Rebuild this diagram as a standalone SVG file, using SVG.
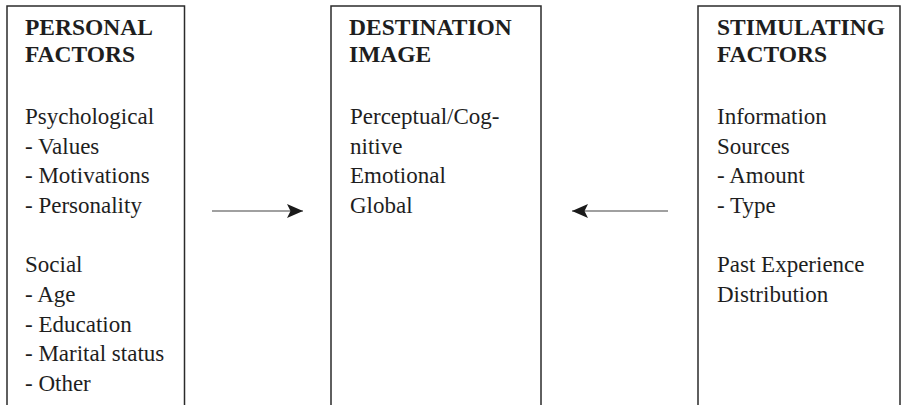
<svg xmlns="http://www.w3.org/2000/svg" width="902" height="405" viewBox="0 0 902 405">
<style>
.box{fill:none;stroke:#2b2b2b;stroke-width:1.5}
.h{font-family:"Liberation Serif","Times New Roman",serif;font-weight:bold;font-size:23.5px;fill:#1e1e1e}
.t{font-family:"Liberation Serif","Times New Roman",serif;font-size:23px;fill:#1e1e1e}
.conn{stroke:#808080;stroke-width:1.6;fill:none}
</style>
<defs>
<marker id="ah" markerUnits="userSpaceOnUse" markerWidth="18" markerHeight="16" refX="16" refY="7" orient="auto" overflow="visible">
<path d="M0,0 L16,7 L0,14 L3.5,7 Z" fill="#1a1a1a"/>
</marker>
</defs>
<rect width="902" height="405" fill="#fff"/>
<g id="personal">
<rect class="box" x="7" y="6" width="177.5" height="420"/>
<text class="h" x="25" y="35">PERSONAL</text>
<text class="h" x="25" y="62">FACTORS</text>
<text class="t" x="25" y="124">Psychological</text>
<text class="t" x="25" y="153.6">- Values</text>
<text class="t" x="25" y="183.2">- Motivations</text>
<text class="t" x="25" y="212.8">- Personality</text>
<text class="t" x="25" y="272">Social</text>
<text class="t" x="25" y="302">- Age</text>
<text class="t" x="25" y="331.5">- Education</text>
<text class="t" x="25" y="361">- Marital status</text>
<text class="t" x="25" y="390.5">- Other</text>
</g>
<g id="destination">
<rect class="box" x="331" y="6" width="210" height="420"/>
<text class="h" x="349" y="35">DESTINATION</text>
<text class="h" x="349" y="62">IMAGE</text>
<text class="t" x="350" y="124">Perceptual/Cog-</text>
<text class="t" x="350" y="153.6">nitive</text>
<text class="t" x="350" y="183.2">Emotional</text>
<text class="t" x="350" y="212.8">Global</text>
</g>
<g id="stimulating">
<rect class="box" x="698" y="6" width="202" height="420"/>
<text class="h" x="717" y="35">STIMULATING</text>
<text class="h" x="717" y="62">FACTORS</text>
<text class="t" x="717" y="124">Information</text>
<text class="t" x="717" y="153.6">Sources</text>
<text class="t" x="717" y="183.2">- Amount</text>
<text class="t" x="717" y="212.8">- Type</text>
<text class="t" x="717" y="272">Past Experience</text>
<text class="t" x="717" y="301.6">Distribution</text>
</g>
<g id="connectors">
<line class="conn" x1="212" y1="211" x2="303" y2="211" marker-end="url(#ah)"/>
<line class="conn" x1="668" y1="211" x2="572" y2="211" marker-end="url(#ah)"/>
</g>
</svg>
